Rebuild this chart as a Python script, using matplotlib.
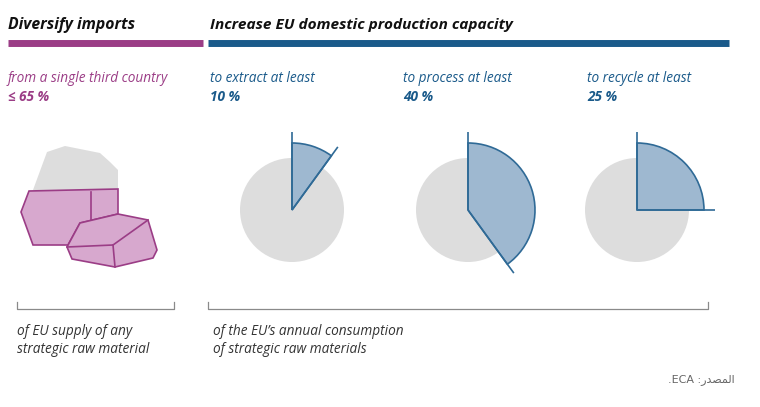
import matplotlib
matplotlib.use('Agg')
import matplotlib.pyplot as plt
from matplotlib.patches import Wedge, Circle, Polygon
import numpy as np

# data
import_label = "from a single third country"
import_cap = 65
target_labels = ["to extract at least", "to process at least", "to recycle at least"]
target_shares = [10, 40, 25]
import_note = ["of EU supply of any", "strategic raw material"]
target_note = ["of the EU\u2019s annual consumption", "of strategic raw materials"]

purple = '#9b3d86'
pink = '#d7a8ce'
blue = '#1a5a8a'
wedge_fill = '#9eb8d0'
wedge_edge = '#2f6a96'
grey = '#dddddd'
txt = '#333333'
fam = ['Open Sans', 'DejaVu Sans']

fig = plt.figure(figsize=(7.6, 4.07), dpi=100)
ax = fig.add_axes([0, 0, 1, 1])
ax.set_xlim(0, 760)
ax.set_ylim(407, 0)
ax.axis('off')

# headers and bars
ax.text(8, 29, "Diversify imports", fontsize=11.3, fontweight='bold', style='italic',
        family=fam, va='baseline', color='#111111')
ax.text(210, 29, "Increase EU domestic production capacity", fontsize=11.1, fontweight='bold',
        style='italic', family=fam, va='baseline', color='#111111')
ax.plot([8, 203], [42.5, 42.5], color=purple, lw=5, solid_capstyle='butt')
ax.plot([208, 729], [42.5, 42.5], color=blue, lw=5, solid_capstyle='butt')

# import cap column
ax.text(8, 82, import_label, fontsize=9.8, style='italic', family=fam, va='baseline', color=purple)
ax.text(8, 101, "≤ %d %%" % import_cap, fontsize=9.8, fontweight='bold', style='italic',
        family=fam, va='baseline', color=purple)

# rocks illustration
back_grey = [(33, 190), (47, 152), (65, 146), (100, 153), (110, 162), (118, 170), (118, 190)]
back_rock = [(29, 191), (21, 212), (33, 245), (68, 245), (80, 223), (118, 214), (118, 189)]
front_rock = [(80, 223), (118, 214), (148, 220), (157, 250), (153, 258), (115, 267),
              (72, 259), (67, 247)]
ax.add_patch(Polygon(back_grey, closed=True, facecolor=grey, edgecolor='none'))
ax.add_patch(Polygon(back_rock, closed=True, facecolor=pink, edgecolor=purple, lw=1.2))
ax.plot([91, 91], [192, 220], color=purple, lw=1.2)
ax.add_patch(Polygon(front_rock, closed=True, facecolor=pink, edgecolor=purple, lw=1.2))
ax.plot([67, 113, 148], [247, 245, 220], color=purple, lw=1.2)
ax.plot([113, 115], [245, 267], color=purple, lw=1.2)

# target pies
label_x = [210, 403, 587]
centers = [292, 468, 637]
cy = 210
r_base, r_wedge, r_line = 52, 67, 78
for lx, cx, lab, v in zip(label_x, centers, target_labels, target_shares):
    ax.text(lx, 82, lab, fontsize=9.8, style='italic', family=fam, va='baseline', color=blue)
    ax.text(lx, 101, "%d %%" % v, fontsize=9.8, fontweight='bold', style='italic',
            family=fam, va='baseline', color=blue)
    ax.add_patch(Circle((cx, cy), r_base, facecolor=grey, edgecolor='none'))
    t1 = -90
    t2 = -90 + 3.6 * v
    ax.add_patch(Wedge((cx, cy), r_wedge, t1, t2, facecolor=wedge_fill,
                       edgecolor=wedge_edge, lw=1.2))
    for t in (t1, t2):
        a = np.deg2rad(t)
        ax.plot([cx, cx + r_line * np.cos(a)], [cy, cy + r_line * np.sin(a)],
                color=wedge_edge, lw=1.2, solid_capstyle='butt')

# brackets
for x0, x1 in [(17, 174), (208, 708)]:
    ax.plot([x0, x0, x1, x1], [302, 309, 309, 302], color='#8a8a8a', lw=0.9)

for i, line in enumerate(import_note):
    ax.text(17, 335 + 18 * i, line, fontsize=9.8, style='italic', family=fam,
            va='baseline', color=txt)
for i, line in enumerate(target_note):
    ax.text(213, 335 + 18 * i, line, fontsize=9.8, style='italic', family=fam,
            va='baseline', color=txt)

# source (visual order, shaped arabic)
ax.text(735, 382, ".ECA :\uFEAD\uFEAA\uFEBC\uFEE4\uFEDF\uFE8D", fontsize=8,
        family=['DejaVu Sans'], ha='right', va='baseline', color='#666666')

fig.savefig('out.png', dpi=100, facecolor='white')
